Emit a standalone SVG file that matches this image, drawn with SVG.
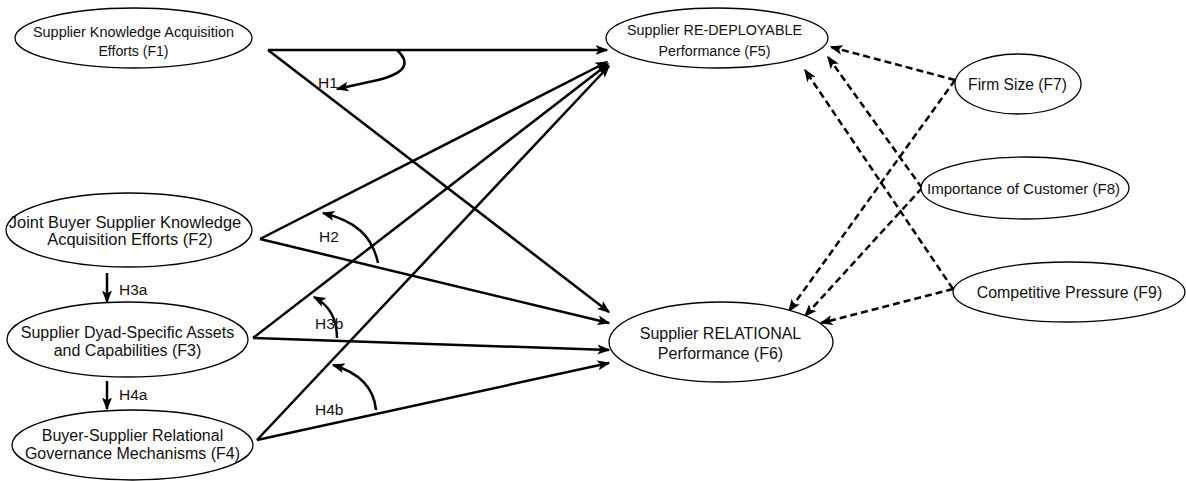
<svg xmlns="http://www.w3.org/2000/svg" width="1186" height="481" viewBox="0 0 1186 481">
<style>
.node ellipse{fill:#fff;stroke:#000;stroke-width:1.3}
.node text,.lbl{font-family:"Liberation Sans",Arial,sans-serif;fill:#111;text-anchor:middle}
.lbl{text-anchor:start;font-size:15.5px}
.s{fill:none;stroke:#000;stroke-width:2.5;marker-end:url(#ah)}
.d{fill:none;stroke:#000;stroke-width:2.5;stroke-dasharray:7 4;marker-end:url(#ah)}
</style>
<defs>
<marker id="ah" markerUnits="userSpaceOnUse" markerWidth="13" markerHeight="11" viewBox="0 0 13 11" refX="11.5" refY="5.5" orient="auto">
<path d="M0,0.5 L13,5.5 L0,10.5 L3,5.5 z" fill="#000"/>
</marker>
</defs>
<rect width="1186" height="481" fill="#fff"/>
<g id="connectors">
<path class="s" d="M268,50 L607,50"/>
<path class="s" d="M268,50 L609,312"/>
<path class="s" d="M260,239 L607,62"/>
<path class="s" d="M260,239 L609,323"/>
<path class="s" d="M253,338 L608,64"/>
<path class="s" d="M253,338 L609,350"/>
<path class="s" d="M257,440 L609,66"/>
<path class="s" d="M257,440 L609,363"/>
<path class="s" d="M107,273 L107,302"/>
<path class="s" d="M107,381 L107,409"/>
<path class="s" d="M397,50 C411,63 406,73 378,80 L337,89"/>
<path class="s" d="M378,263 C372,235 355,221 323,213"/>
<path class="s" d="M337,338 C337,318 329,305 314,297"/>
<path class="s" d="M376,410 C374,388 360,373 333,365"/>
<path class="d" d="M955,80 L831,47"/>
<path class="d" d="M955,80 L789,311"/>
<path class="d" d="M922,188 L828,57"/>
<path class="d" d="M922,188 L805,316"/>
<path class="d" d="M953,289 L805,70"/>
<path class="d" d="M953,289 L821,323"/>
</g>
<g id="F1" class="node"><ellipse cx="133.5" cy="38" rx="118.5" ry="30"/><text font-size="15.5" x="133.5" y="36.5" textLength="201" lengthAdjust="spacingAndGlyphs">Supplier Knowledge Acquisition</text><text font-size="15.5" x="133.5" y="55.5" textLength="70" lengthAdjust="spacingAndGlyphs">Efforts (F1)</text></g>
<g id="F2" class="node"><ellipse cx="129" cy="230" rx="123" ry="37"/><text font-size="16.4" x="125" y="227.5">Joint Buyer Supplier Knowledge</text><text font-size="16.4" x="130" y="245">Acquisition Efforts (F2)</text></g>
<g id="F3" class="node"><ellipse cx="127.5" cy="339.5" rx="120.5" ry="37.5"/><text font-size="16" x="127.5" y="337.5">Supplier Dyad-Specific Assets</text><text font-size="16" x="127.5" y="355.5">and Capabilities (F3)</text></g>
<g id="F4" class="node"><ellipse cx="132.5" cy="445" rx="120.5" ry="35"/><text font-size="16" x="132.5" y="440.5">Buyer-Supplier Relational</text><text font-size="16" x="132.5" y="458.5">Governance Mechanisms (F4)</text></g>
<g id="F5" class="node"><ellipse cx="717" cy="38" rx="111" ry="30"/><text font-size="15.5" x="714.5" y="34.5" textLength="175" lengthAdjust="spacingAndGlyphs">Supplier RE-DEPLOYABLE</text><text font-size="15.5" x="714.5" y="55.5" textLength="112" lengthAdjust="spacingAndGlyphs">Performance (F5)</text></g>
<g id="F6" class="node"><ellipse cx="721" cy="342" rx="112" ry="40"/><text font-size="16" x="720.5" y="338.5">Supplier RELATIONAL</text><text font-size="16" x="720.5" y="358.5">Performance (F6)</text></g>
<g id="F7" class="node"><ellipse cx="1018" cy="84" rx="63" ry="30"/><text font-size="15.6" x="1017.5" y="89.5">Firm Size (F7)</text></g>
<g id="F8" class="node"><ellipse cx="1025" cy="188" rx="104" ry="31"/><text font-size="15.5" x="1023.5" y="194" textLength="193" lengthAdjust="spacingAndGlyphs">Importance of Customer (F8)</text></g>
<g id="F9" class="node"><ellipse cx="1069" cy="292" rx="116" ry="30"/><text font-size="15.9" x="1069.5" y="297.5">Competitive Pressure (F9)</text></g>
<g id="labels">
<text class="lbl" x="318" y="87.5">H1</text>
<text class="lbl" x="319" y="241.5">H2</text>
<text class="lbl" x="119" y="294.5">H3a</text>
<text class="lbl" x="315" y="328.5">H3b</text>
<text class="lbl" x="119" y="399.5">H4a</text>
<text class="lbl" x="315" y="414.5">H4b</text>
</g>
</svg>
